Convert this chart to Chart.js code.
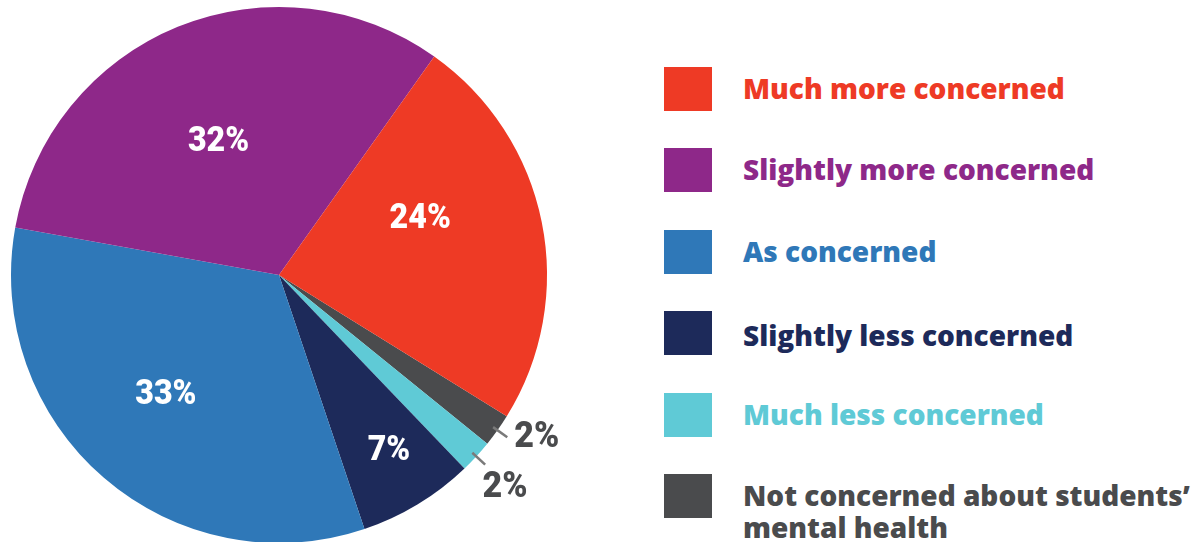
<!DOCTYPE html>
<html>
<head>
<meta charset="utf-8">
<script src="https://cdn.jsdelivr.net/npm/chart.js@4.4.1/dist/chart.umd.min.js"></script>
<style>
  html, body { margin: 0; padding: 0; width: 1196px; height: 542px; overflow: hidden; background: #ffffff; }
  #pieWrap { position: absolute; left: 0; top: 0; width: 620px; height: 543px; }
  #legend { position: absolute; left: 664px; top: 67px; width: 532px; }
  .item { position: absolute; left: 0; display: flex; align-items: flex-start; }
  .box { width: 48px; height: 44px; flex: none; }
  .txt { margin-left: 31px; font-family: "Open Sans", sans-serif; font-weight: 800; font-size: 28px; line-height: 32px; white-space: nowrap; }
</style>
</head>
<body>
<div id="pieWrap"><canvas id="pie"></canvas></div>
<div id="legend"></div>
<script>
// Legend order (top to bottom)
const categories = [
  "Much more concerned",
  "Slightly more concerned",
  "As concerned",
  "Slightly less concerned",
  "Much less concerned",
  "Not concerned about students\u2019 mental health"
];
const shares = [24, 32, 33, 7, 2, 2];
const colors = ["#ee3a25", "#8e2889", "#2f78b8", "#1d2a5a", "#5fcad6", "#4a4b4d"];
const valueLabels = ["24%", "32%", "33%", "7%", "2%", "2%"];

// Label placement per category: radius fraction, angle shift (deg), font size, outside flag
const labelPlace = [
  { r: 0.57, shift: -11,  size: 35, out: false },
  { r: 0.55, shift: -2,   size: 35, out: false },
  { r: 0.61, shift: 3,    size: 35, out: false },
  { r: 0.77, shift: -1,   size: 35, out: false },
  { r: 1.153, shift: 0.4, size: 37, out: true },
  { r: 1.134, shift: -3.4, size: 37, out: true }
];

// The pie runs clockwise in reverse legend order, starting with the grey slice
const order = [5, 4, 3, 2, 1, 0];
const pieLabels = order.map(i => categories[i]);
const pieData = order.map(i => shares[i]);
const pieColors = order.map(i => colors[i]);

const sliceLabels = {
  id: 'sliceLabels',
  afterDatasetsDraw(chart) {
    const ctx = chart.ctx;
    const meta = chart.getDatasetMeta(0);
    meta.data.forEach((arc, k) => {
      const idx = order[k];
      const p = labelPlace[idx];
      const mid = (arc.startAngle + arc.endAngle) / 2;
      const ang = mid + p.shift * Math.PI / 180;
      const R = arc.outerRadius;
      const cx = arc.x, cy = arc.y;
      ctx.save();
      if (p.out) {
        ctx.strokeStyle = '#7a7a7a';
        ctx.lineWidth = 2.5;
        ctx.beginPath();
        ctx.moveTo(cx + Math.cos(mid) * R * 0.98, cy + Math.sin(mid) * R * 0.98);
        ctx.lineTo(cx + Math.cos(mid) * R * 1.045, cy + Math.sin(mid) * R * 1.045);
        ctx.stroke();
        ctx.fillStyle = '#4a4b4d';
      } else {
        ctx.fillStyle = '#ffffff';
      }
      const x = cx + Math.cos(ang) * R * p.r;
      const y = cy + Math.sin(ang) * R * p.r;
      ctx.translate(x, y + 2);
      ctx.scale(0.92, 1);
      ctx.font = '900 ' + p.size + 'px Roboto, sans-serif';
      ctx.textAlign = 'center';
      ctx.textBaseline = 'middle';
      ctx.fillText(valueLabels[idx], 0, 0);
      ctx.restore();
    });
  }
};

new Chart(document.getElementById('pie'), {
  type: 'pie',
  data: {
    labels: pieLabels,
    datasets: [{ data: pieData, backgroundColor: pieColors, borderWidth: 0 }]
  },
  options: {
    responsive: true,
    maintainAspectRatio: false,
    animation: false,
    rotation: 121.8,
    layout: { padding: { left: 11, top: 7, right: 73, bottom: 0 } },
    plugins: { legend: { display: false }, tooltip: { enabled: false } }
  },
  plugins: [sliceLabels]
});

// Legend on the right
const rowTops = [0, 81, 163, 244, 326, 407];
const legend = document.getElementById('legend');
categories.forEach((name, i) => {
  const item = document.createElement('div');
  item.className = 'item';
  item.style.top = rowTops[i] + 'px';
  const box = document.createElement('div');
  box.className = 'box';
  box.style.background = colors[i];
  const txt = document.createElement('div');
  txt.className = 'txt';
  txt.style.color = colors[i];
  txt.style.marginTop = (i === 3 ? 8 : 5) + 'px';
  if (i === 5) {
    txt.innerHTML = 'Not concerned about students\u2019<br>mental health';
  } else {
    txt.textContent = name;
  }
  item.appendChild(box);
  item.appendChild(txt);
  legend.appendChild(item);
});
</script>
</body>
</html>
